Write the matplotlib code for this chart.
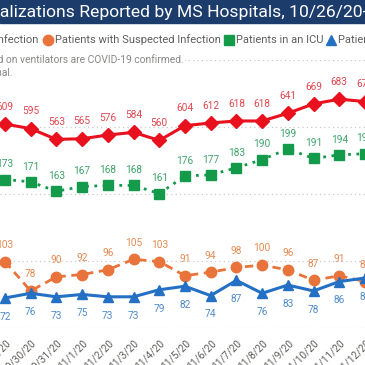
import matplotlib
matplotlib.use("Agg")
import matplotlib.pyplot as plt
from matplotlib.patches import Rectangle
from matplotlib.lines import Line2D
import numpy as np

# data (crop shows 10/29 .. 11/12)
dates = ["10/29/20", "10/30/20", "10/31/20", "11/1/20", "11/2/20", "11/3/20", "11/4/20",
         "11/5/20", "11/6/20", "11/7/20", "11/8/20", "11/9/20", "11/10/20", "11/11/20", "11/12/20"]
confirmed = [609, 595, 563, 565, 576, 584, 560, 604, 612, 618, 618, 641, 669, 683, 676]
suspected = [103, 78, 90, 92, 96, 105, 103, 91, 94, 98, 100, 96, 87, 91, 86]
icu = [173, 171, 163, 167, 168, 168, 161, 176, 177, 183, 190, 199, 191, 194, 195]
ventilator = [72, 76, 73, 75, 73, 73, 79, 82, 74, 87, 76, 83, 78, 86, 89]

series_names = ["Patients with Confirmed Infection", "Patients with Suspected Infection",
                "Patients in an ICU", "Patients on a Ventilator"]
title = "COVID-19 Hospitalizations Reported by MS Hospitals, 10/26/20-11/23/20"
title_cut = "COVID-19 Hospit"
note = ["All patients reported on ventilators are COVID-19 confirmed.", "Data is provisional."]

RED, ORANGE, GREEN, BLUE = "#e8111d", "#e8743b", "#139a4a", "#2470c4"
RED_L, ORANGE_L, GREEN_L, BLUE_L = "#e0474f", "#e58a52", "#3fa46b", "#4f8cc9"
GREY = "#605e5c"

W = H = 365
plt.rcParams['font.family'] = ['Roboto', 'DejaVu Sans']
fig = plt.figure(figsize=(3.65, 3.65), dpi=100)
renderer = fig.canvas.get_renderer()


def fx(px):
    return px / W


def fy(py):
    return 1 - py / H


# plot area spans 60..328 px from the top
ax = fig.add_axes([0, fy(328), 1, (328 - 60) / H])
ax2 = ax.twinx()
x = np.arange(len(dates))
step = 26.1
ax.set_xlim(-5 / step, (W - 5) / step)
ax.set_ylim(0, 800)
ax2.set_ylim(46.4, 274.9)

ax.set_yticks([0, 200, 400, 600, 800])
ax.grid(axis='y', linestyle=(0, (1, 2.5)), color='#c9c9c9', linewidth=0.9)
ax.grid(axis='x', visible=False)
for a in (ax, ax2):
    for s in a.spines.values():
        s.set_visible(False)
    a.tick_params(left=False, right=False, labelleft=False, labelright=False, bottom=False)
ax.patch.set_alpha(0)

ax.set_xticks(x)
ax.set_xticklabels(dates, rotation=45, ha='right', va='top', rotation_mode='anchor',
                   fontsize=7.3, color=GREY)
ax.tick_params(axis='x', pad=3.5)

# lines
ax.plot(x, confirmed, color=RED, lw=2.2, marker='D', ms=7.5, zorder=3)
ax2.plot(x, suspected, color=ORANGE, lw=2, ls=(0, (3, 2)), marker='o', ms=7.5, zorder=3)
ax2.plot(x, icu, color=GREEN, lw=2, ls=(0, (1, 2)), marker='s', ms=6.5, zorder=3)
ax2.plot(x, ventilator, color=BLUE, lw=2.2, marker='^', ms=7.5, zorder=4)


def labels(a, vals, color, dy):
    for i, v in enumerate(vals):
        a.annotate(str(v), (i, v), xytext=(0, dy), textcoords='offset points',
                   ha='center', va='center', fontsize=7.3, color=color, annotation_clip=False)


labels(ax, confirmed, RED_L, 12.5)
labels(ax2, suspected, ORANGE_L, 12)
labels(ax2, icu, GREEN_L, 11)
labels(ax2, ventilator, BLUE_L, -13.5)

# title bar
fig.patches.append(Rectangle((0, fy(23)), 1, 23 / H, transform=fig.transFigure,
                             color='#1c3d6c', zorder=0))
tprops = dict(fontsize=12.6, color='white', va='center')
probe = fig.text(0, 0, title_cut, **tprops)
cut_w = probe.get_window_extent(renderer).width
probe.remove()
fig.text(-cut_w / W, fy(12), title, ha='left', **tprops)

# legend row
lprops = dict(fontsize=8, color=GREY, va='center')
ly = fy(40)
fig.text(fx(38), ly, series_names[0], ha='right', **lprops)
pos = 48
for name, col, mk, ms in [(series_names[1], ORANGE, 'o', 7.5), (series_names[2], GREEN, 's', 7),
                          (series_names[3], BLUE, '^', 7.5)]:
    fig.add_artist(Line2D([fx(pos)], [ly], marker=mk, ms=ms, color=col, ls='none',
                          transform=fig.transFigure))
    t = fig.text(fx(pos + 7), ly, name, ha='left', **lprops)
    pos = pos + 7 + t.get_window_extent(renderer).width + 8

# note lines (white box hides the gridline under the text)
fig.text(fx(184), fy(60), note[0], ha='right', va='center', fontsize=7.4, color='#8a8886',
         bbox=dict(facecolor='white', edgecolor='none', pad=1))
fig.text(fx(13), fy(73), note[1], ha='right', va='center', fontsize=7.4, color='#8a8886')

fig.savefig("out.png", dpi=100)
